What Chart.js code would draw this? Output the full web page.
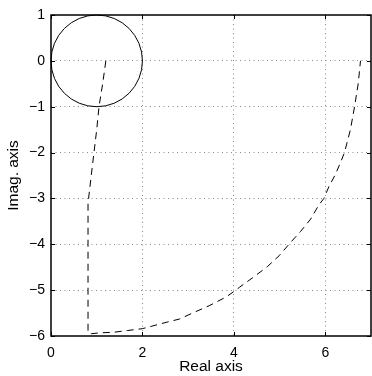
<!DOCTYPE html>
<html>
<head>
<meta charset="utf-8">
<script src="https://cdn.jsdelivr.net/npm/chart.js@4/dist/chart.umd.min.js"></script>
<style>
html,body{margin:0;padding:0;background:#fff;}
#wrap{width:372px;height:376px;}
</style>
</head>
<body>
<div id="wrap"><canvas id="c" width="372" height="376"></canvas></div>
<script>
// Data
const curveX = [1.20,1.13,1.05,1.00,0.94,0.88,0.84,0.81,0.81,0.81,0.81,0.81,0.89,1.07,1.36,1.68,2.00,2.19,2.45,2.81,3.14,3.46,3.83,4.00,4.12,4.41,4.73,4.99,5.24,5.46,5.68,5.86,5.97,6.08,6.22,6.34,6.42,6.55,6.64,6.72,6.77];
const curveY = [0.00,-0.50,-1.00,-1.50,-2.00,-2.50,-2.85,-3.10,-4.00,-5.00,-5.88,-5.93,-5.95,-5.93,-5.92,-5.88,-5.84,-5.79,-5.72,-5.63,-5.48,-5.34,-5.15,-5.03,-4.94,-4.73,-4.49,-4.25,-3.96,-3.72,-3.45,-3.14,-3.00,-2.74,-2.48,-2.20,-2.00,-1.50,-1.00,-0.50,0.00];
const circleCenter = [1, 0];
const circleRadius = 1;
const xTicks = [0, 2, 4, 6];
const yTicks = [-6, -5, -4, -3, -2, -1, 0, 1];
const xTitle = 'Real axis';
const yTitle = 'Imag. axis';

const FONT = "'Liberation Sans', Arial, Helvetica, sans-serif";

const curveData = curveX.map((x, i) => ({x: x, y: curveY[i]}));

const framePlugin = {
  id: 'frame',
  beforeDatasetsDraw(chart) {
    // circle drawn through the scales
    const ctx = chart.ctx;
    const xs = chart.scales.x, ys = chart.scales.y;
    const cx = xs.getPixelForValue(circleCenter[0]);
    const cy = ys.getPixelForValue(circleCenter[1]);
    const rx = Math.abs(xs.getPixelForValue(circleCenter[0] + circleRadius) - cx);
    const ry = Math.abs(ys.getPixelForValue(circleCenter[1] + circleRadius) - cy);
    ctx.save();
    ctx.beginPath();
    ctx.ellipse(cx, cy, rx, ry, 0, 0, Math.PI * 2);
    ctx.strokeStyle = '#000';
    ctx.lineWidth = 1;
    ctx.stroke();
    ctx.restore();
  },
  afterDraw(chart) {
    const ctx = chart.ctx;
    const a = chart.chartArea;
    const xs = chart.scales.x, ys = chart.scales.y;
    ctx.save();
    ctx.strokeStyle = '#000';
    ctx.lineWidth = 1.5;
    ctx.strokeRect(a.left, a.top, a.right - a.left, a.bottom - a.top);
    ctx.lineWidth = 1;
    const L = 4;
    ctx.beginPath();
    xTicks.forEach(v => {
      const px = Math.round(xs.getPixelForValue(v)) + 0.5;
      ctx.moveTo(px, a.bottom); ctx.lineTo(px, a.bottom - L);
      ctx.moveTo(px, a.top); ctx.lineTo(px, a.top + L);
    });
    yTicks.forEach(v => {
      const py = Math.round(ys.getPixelForValue(v)) + 0.5;
      ctx.moveTo(a.left, py); ctx.lineTo(a.left + L, py);
      ctx.moveTo(a.right, py); ctx.lineTo(a.right - L, py);
    });
    ctx.stroke();
    ctx.restore();
  }
};

const fmt = v => (v < 0 ? '\u2212' + Math.abs(v) : String(v));

new Chart(document.getElementById('c'), {
  type: 'scatter',
  data: {
    datasets: [{
      data: curveData,
      showLine: true,
      borderColor: '#000',
      borderWidth: 1,
      borderDash: [7, 5],
      pointRadius: 0,
      tension: 0,
      fill: false
    }]
  },
  options: {
    responsive: false,
    animation: false,
    devicePixelRatio: 1,
    layout: {padding: {top: 15, right: 1, left: 0, bottom: 0}},
    plugins: {legend: {display: false}, tooltip: {enabled: false}},
    scales: {
      x: {
        type: 'linear',
        min: 0, max: 7,
        afterBuildTicks(scale) { scale.ticks = xTicks.map(v => ({value: v})); },
        afterFit(scale) { scale.height = 40; },
        grid: {
          color: ctx => (ctx.tick && (ctx.tick.value === 0 || ctx.tick.value === 7)) ? 'rgba(0,0,0,0)' : '#8a8a8a',
          lineWidth: 1,
          drawTicks: false
        },
        border: {display: false, dash: [1, 3.5]},
        ticks: {
          color: '#000',
          font: {family: FONT, size: 14},
          padding: 9,
          maxRotation: 0,
          callback: fmt
        },
        title: {
          display: true, text: xTitle, color: '#000',
          font: {family: FONT, size: 15.5},
          padding: {top: 0, bottom: 0}
        }
      },
      y: {
        type: 'linear',
        min: -6, max: 1,
        afterBuildTicks(scale) { scale.ticks = yTicks.map(v => ({value: v})); },
        afterFit(scale) { scale.width = 51; },
        grid: {
          color: ctx => (ctx.tick && (ctx.tick.value === -6 || ctx.tick.value === 1)) ? 'rgba(0,0,0,0)' : '#8a8a8a',
          lineWidth: 1,
          drawTicks: false
        },
        border: {display: false, dash: [1, 3.5]},
        ticks: {
          color: '#000',
          font: {family: FONT, size: 14},
          padding: 6,
          callback: fmt
        },
        title: {
          display: true, text: yTitle, color: '#000',
          font: {family: FONT, size: 15.5},
          padding: {top: 4, bottom: 0}
        }
      }
    }
  },
  plugins: [framePlugin]
});
</script>
</body>
</html>
